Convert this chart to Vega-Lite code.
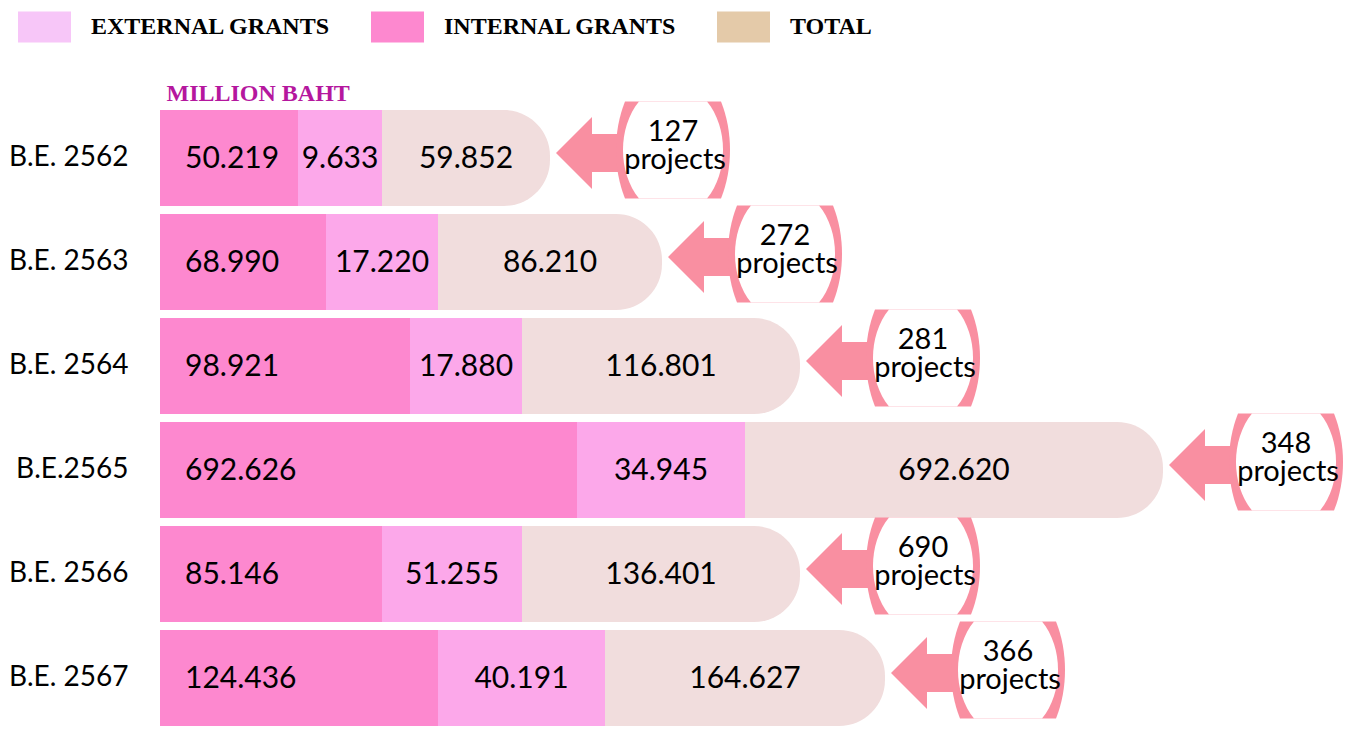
{
  "$schema": "https://vega.github.io/schema/vega-lite/v6.json",
  "width": 1205,
  "height": 624,
  "autosize": {"type": "none"},
  "padding": {"left": 160, "top": 106, "right": 0, "bottom": 1},
  "background": "white",
  "config": {"view": {"stroke": null}},
  "data": {"values": [
    {"year": "B.E. 2562", "type": "INTERNAL GRANTS", "ord": 1, "len": 138, "value": 50.219, "label": "50.219", "projects": "127"},
    {"year": "B.E. 2562", "type": "EXTERNAL GRANTS", "ord": 2, "len": 84, "value": 9.633, "label": "9.633", "projects": "127"},
    {"year": "B.E. 2562", "type": "TOTAL", "ord": 3, "len": 168, "value": 59.852, "label": "59.852", "projects": "127"},
    {"year": "B.E. 2563", "type": "INTERNAL GRANTS", "ord": 1, "len": 166, "value": 68.99, "label": "68.990", "projects": "272"},
    {"year": "B.E. 2563", "type": "EXTERNAL GRANTS", "ord": 2, "len": 112, "value": 17.22, "label": "17.220", "projects": "272"},
    {"year": "B.E. 2563", "type": "TOTAL", "ord": 3, "len": 224, "value": 86.21, "label": "86.210", "projects": "272"},
    {"year": "B.E. 2564", "type": "INTERNAL GRANTS", "ord": 1, "len": 250, "value": 98.921, "label": "98.921", "projects": "281"},
    {"year": "B.E. 2564", "type": "EXTERNAL GRANTS", "ord": 2, "len": 112, "value": 17.88, "label": "17.880", "projects": "281"},
    {"year": "B.E. 2564", "type": "TOTAL", "ord": 3, "len": 278, "value": 116.801, "label": "116.801", "projects": "281"},
    {"year": "B.E.2565", "type": "INTERNAL GRANTS", "ord": 1, "len": 417, "value": 692.626, "label": "692.626", "projects": "348"},
    {"year": "B.E.2565", "type": "EXTERNAL GRANTS", "ord": 2, "len": 168, "value": 34.945, "label": "34.945", "projects": "348"},
    {"year": "B.E.2565", "type": "TOTAL", "ord": 3, "len": 418, "value": 692.62, "label": "692.620", "projects": "348"},
    {"year": "B.E. 2566", "type": "INTERNAL GRANTS", "ord": 1, "len": 222, "value": 85.146, "label": "85.146", "projects": "690"},
    {"year": "B.E. 2566", "type": "EXTERNAL GRANTS", "ord": 2, "len": 140, "value": 51.255, "label": "51.255", "projects": "690"},
    {"year": "B.E. 2566", "type": "TOTAL", "ord": 3, "len": 278, "value": 136.401, "label": "136.401", "projects": "690"},
    {"year": "B.E. 2567", "type": "INTERNAL GRANTS", "ord": 1, "len": 278, "value": 124.436, "label": "124.436", "projects": "366"},
    {"year": "B.E. 2567", "type": "EXTERNAL GRANTS", "ord": 2, "len": 167, "value": 40.191, "label": "40.191", "projects": "366"},
    {"year": "B.E. 2567", "type": "TOTAL", "ord": 3, "len": 280, "value": 164.627, "label": "164.627", "projects": "366"}
  ]},
  "transform": [
    {"stack": "len", "groupby": ["year"], "sort": [{"field": "ord", "order": "ascending"}], "as": ["x0", "x1"]},
    {"calculate": "(datum.x0 + datum.x1) / 2", "as": "mid"}
  ],
  "encoding": {
    "y": {
      "field": "year", "type": "nominal",
      "sort": ["B.E. 2562", "B.E. 2563", "B.E. 2564", "B.E.2565", "B.E. 2566", "B.E. 2567"],
      "scale": {"paddingInner": 0.0769, "paddingOuter": 0.0385},
      "axis": {"title": "MILLION BAHT", "titleAngle": 0, "titleX": 6, "titleY": -6, "titleAlign": "left", "titleBaseline": "alphabetic",
        "titleFont": "Liberation Serif", "titleFontSize": 24, "titleFontWeight": "bold", "titleColor": "#b5179e",
        "domain": false, "ticks": false, "labelFont": "Lato", "labelFontSize": 28, "labelColor": "#000000", "labelPadding": 32, "labelLimit": 200}
    }
  },
  "layer": [
    {
      "mark": {"type": "point", "shape": "square", "filled": true, "opacity": 0},
      "encoding": {
        "x": {"field": "x1", "type": "quantitative", "scale": {"domain": [0, 1205], "nice": false, "zero": false}, "axis": null},
        "color": {
          "field": "type", "type": "nominal",
          "scale": {"domain": ["EXTERNAL GRANTS", "INTERNAL GRANTS", "TOTAL"], "range": ["#f7c6f8", "#fd88cf", "#e4caa9"]},
          "legend": {"orient": "none", "legendX": -142, "legendY": -106, "direction": "horizontal", "title": null,
            "symbolType": "M-1,-0.585 L1,-0.585 L1,0.585 L-1,0.585 Z", "symbolSize": 2809, "symbolStrokeWidth": 0, "symbolOpacity": 1,
            "labelFont": "Liberation Serif", "labelFontSize": 24, "labelFontWeight": "bold", "labelColor": "#000000",
            "labelOffset": 20, "columnPadding": 40, "labelLimit": 400, "padding": 0}
        }
      }
    },
    {
      "transform": [{"filter": "datum.type !== 'TOTAL'"}],
      "mark": {"type": "bar"},
      "encoding": {
        "x": {"field": "x0", "type": "quantitative", "scale": {"domain": [0, 1205], "nice": false, "zero": false}, "axis": null},
        "x2": {"field": "x1"},
        "color": {"field": "type", "type": "nominal", "scale": {"domain": ["EXTERNAL GRANTS", "INTERNAL GRANTS", "TOTAL"], "range": ["#fca8ea", "#fd88cf", "#f1dddd"]}, "legend": null}
      }
    },
    {
      "transform": [{"filter": "datum.type === 'TOTAL'"}],
      "mark": {"type": "bar", "color": "#f1dddd", "cornerRadiusTopRight": 46, "cornerRadiusBottomRight": 46},
      "encoding": {
        "x": {"field": "x0", "type": "quantitative", "scale": {"domain": [0, 1205], "nice": false, "zero": false}, "axis": null},
        "x2": {"field": "x1"}
      }
    },
    {
      "transform": [{"filter": "datum.type === 'TOTAL'"}],
      "mark": {"type": "point", "shape": "M6,-5 L42,-41 L42,-24 L110,-24 L110,14 L42,14 L42,31 Z", "size": 4, "filled": true, "opacity": 1, "color": "#f98fa1", "strokeWidth": 0},
      "encoding": {
        "x": {"field": "x1", "type": "quantitative", "scale": {"domain": [0, 1205], "nice": false, "zero": false}, "axis": null}
      }
    },
    {
      "transform": [{"filter": "datum.type === 'TOTAL'"}],
      "mark": {"type": "point", "shape": "M75,-56.5 L171,-56.5 C183,-26.94 183,10.94 171,40.5 L75,40.5 C63,10.94 63,-26.94 75,-56.5 Z", "size": 4, "filled": true, "opacity": 1, "color": "#f98fa1", "strokeWidth": 0},
      "encoding": {
        "x": {"field": "x1", "type": "quantitative", "scale": {"domain": [0, 1205], "nice": false, "zero": false}, "axis": null}
      }
    },
    {
      "transform": [{"filter": "datum.type === 'TOTAL'"}],
      "mark": {"type": "point", "shape": "M89,-56.5 L157,-56.5 C178.35,-30.33 178.35,14.33 157,40.5 L89,40.5 C67.65,14.33 67.65,-30.33 89,-56.5 Z", "size": 4, "filled": true, "opacity": 1, "color": "#ffffff", "strokeWidth": 0},
      "encoding": {
        "x": {"field": "x1", "type": "quantitative", "scale": {"domain": [0, 1205], "nice": false, "zero": false}, "axis": null}
      }
    },
    {
      "transform": [{"filter": "datum.type === 'INTERNAL GRANTS'"}],
      "mark": {"type": "text", "align": "left", "baseline": "middle", "dx": 25, "dy": 1, "font": "Lato", "fontSize": 30, "color": "#000000"},
      "encoding": {
        "x": {"field": "x0", "type": "quantitative", "scale": {"domain": [0, 1205], "nice": false, "zero": false}, "axis": null},
        "text": {"field": "label"}
      }
    },
    {
      "transform": [{"filter": "datum.type !== 'INTERNAL GRANTS'"}],
      "mark": {"type": "text", "align": "center", "baseline": "middle", "dy": 1, "font": "Lato", "fontSize": 30, "color": "#000000"},
      "encoding": {
        "x": {"field": "mid", "type": "quantitative", "scale": {"domain": [0, 1205], "nice": false, "zero": false}, "axis": null},
        "text": {"field": "label"}
      }
    },
    {
      "transform": [{"filter": "datum.type === 'TOTAL'"}],
      "mark": {"type": "text", "align": "center", "baseline": "middle", "dx": 123, "dy": -26, "font": "Lato", "fontSize": 29, "color": "#000000"},
      "encoding": {
        "x": {"field": "x1", "type": "quantitative", "scale": {"domain": [0, 1205], "nice": false, "zero": false}, "axis": null},
        "text": {"field": "projects"}
      }
    },
    {
      "transform": [{"filter": "datum.type === 'TOTAL'"}],
      "mark": {"type": "text", "align": "center", "baseline": "middle", "dx": 125, "dy": 2, "font": "Lato", "fontSize": 29, "color": "#000000", "text": "projects"},
      "encoding": {
        "x": {"field": "x1", "type": "quantitative", "scale": {"domain": [0, 1205], "nice": false, "zero": false}, "axis": null}
      }
    }
  ],
  "resolve": {"scale": {"color": "independent"}}
}
